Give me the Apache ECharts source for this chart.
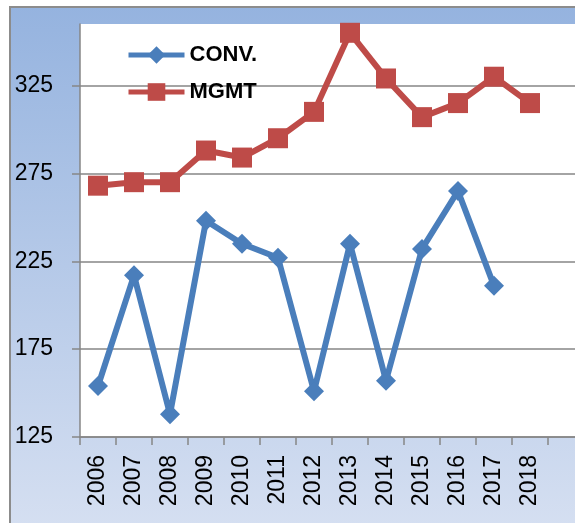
<!DOCTYPE html>
<html>
<head>
<meta charset="utf-8">
<script src="https://cdn.jsdelivr.net/npm/echarts@6/dist/echarts.min.js"></script>
<style>
html,body{margin:0;padding:0;background:#fff;overflow:hidden;width:575px;height:523px;}
#chart{width:600px;height:523px;}
</style>
</head>
<body>
<div id="chart"></div>
<script>
const years = ['2006','2007','2008','2009','2010','2011','2012','2013','2014','2015','2016','2017','2018'];
const convValues = [154, 217, 138, 248, 235, 227, 151, 235, 157, 232, 265, 211, null];
const mgmtValues = [268, 270, 270, 288, 284, 295, 310, 355, 329, 307, 315, 330, 315];
const yTicks = [125, 175, 225, 275, 325];

const chart = echarts.init(document.getElementById('chart'));
const axisColor = '#868686';
const font = 'Liberation Sans, Arial, sans-serif';

chart.setOption({
  animation: false,
  graphic: [{
    type: 'rect',
    z: -10,
    silent: true,
    shape: { x: 10, y: 7, width: 700, height: 600 },
    style: {
      fill: new echarts.graphic.LinearGradient(0, 0, 0, 1, [
        { offset: 0, color: '#95b3df' },
        { offset: 1, color: '#dfe6f4' }
      ]),
      stroke: '#8c8c8c',
      lineWidth: 2
    }
  }],
  grid: {
    left: 80, top: 24, width: 504, height: 413,
    show: true, backgroundColor: '#ffffff', borderWidth: 0,
    containLabel: false
  },
  legend: {
    orient: 'vertical',
    left: 121, top: 39,
    itemWidth: 56, itemHeight: 22, itemGap: 15,
    lineStyle: { width: 5 },
    textStyle: { fontFamily: font, fontWeight: 'bold', fontSize: 22, color: '#000' },
    data: ['CONV.', 'MGMT']
  },
  xAxis: {
    type: 'category',
    data: years.concat(['']),
    boundaryGap: true,
    axisLine: { lineStyle: { color: axisColor, width: 1.5 } },
    axisTick: { show: true, length: 8, lineStyle: { color: axisColor, width: 1.5 } },
    axisLabel: { rotate: 90, margin: 18, fontSize: 23, fontFamily: font, color: '#000', interval: 0 },
    splitLine: { show: false }
  },
  yAxis: {
    type: 'value',
    min: 125, max: 360,
    axisLine: { show: true, lineStyle: { color: axisColor, width: 1.5 } },
    axisTick: { show: true, length: 8, customValues: yTicks, lineStyle: { color: axisColor, width: 1.5 } },
    axisLabel: { margin: 27, fontSize: 23, fontFamily: font, color: '#000', customValues: yTicks },
    splitLine: { show: true, lineStyle: { color: axisColor, width: 1.5 } }
  },
  series: [
    {
      name: 'CONV.', type: 'line', data: convValues,
      symbol: 'diamond', symbolSize: 20,
      lineStyle: { color: '#4a7ebb', width: 6 },
      itemStyle: { color: '#4a7ebb' },
      connectNulls: false
    },
    {
      name: 'MGMT', type: 'line', data: mgmtValues,
      symbol: 'rect', symbolSize: 20,
      lineStyle: { color: '#be4b48', width: 6 },
      itemStyle: { color: '#be4b48' }
    }
  ]
});
</script>
</body>
</html>
